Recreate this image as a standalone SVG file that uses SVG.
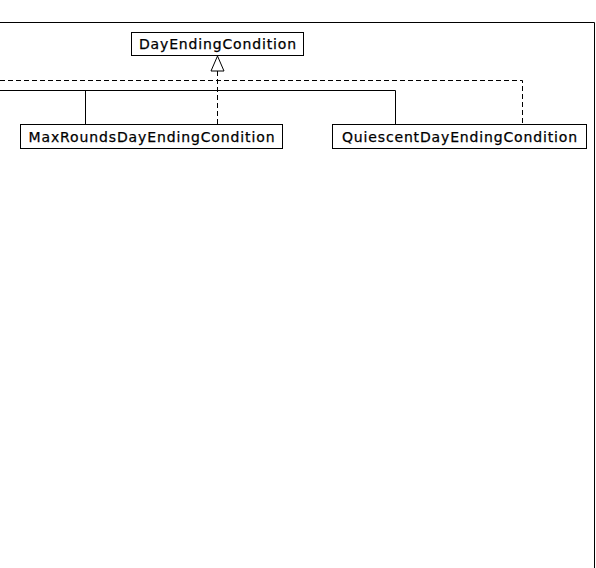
<svg xmlns="http://www.w3.org/2000/svg" width="596" height="568" viewBox="0 0 596 568">
  <style>
    .box { fill: #fff; stroke: #000; stroke-width: 1; }
    .lbl { font-family: "DejaVu Sans", "Liberation Sans", sans-serif; font-size: 14px; fill: #000; stroke: #000; stroke-width: 0.25; text-anchor: middle; }
    .solid { fill: none; stroke: #000; stroke-width: 1; }
    .dash { fill: none; stroke: #000; stroke-width: 1; stroke-dasharray: 5 3; }
  </style>
  <rect width="596" height="568" fill="#fff"/>
  <!-- package frame -->
  <path class="solid" d="M0 22.5 H594.5 V568"/>
  <g id="connectors">
    <!-- generalization (solid) -->
    <path class="solid" d="M0 90.5 H395.5 V124.5 M85.5 90.5 V124.5"/>
    <!-- realization (dashed) -->
    <path class="dash" d="M0 80.5 H522.5 V124.5"/>
    <path class="dash" d="M217.5 71 V124.5"/>
    <polygon points="217.5,56 211,71 224,71" fill="#fff" stroke="#000" stroke-width="1"/>
  </g>
  <g id="DayEndingCondition">
    <rect class="box" x="131.5" y="32.5" width="172" height="23"/>
    <text class="lbl" x="217.5" y="48.5" textLength="157" lengthAdjust="spacing">DayEndingCondition</text>
  </g>
  <g id="MaxRoundsDayEndingCondition">
    <rect class="box" x="20.5" y="124.5" width="262" height="24"/>
    <text class="lbl" x="151.5" y="142" textLength="246" lengthAdjust="spacing">MaxRoundsDayEndingCondition</text>
  </g>
  <g id="QuiescentDayEndingCondition">
    <rect class="box" x="332.5" y="124.5" width="254" height="24"/>
    <text class="lbl" x="459.5" y="142" textLength="235" lengthAdjust="spacing">QuiescentDayEndingCondition</text>
  </g>
</svg>
